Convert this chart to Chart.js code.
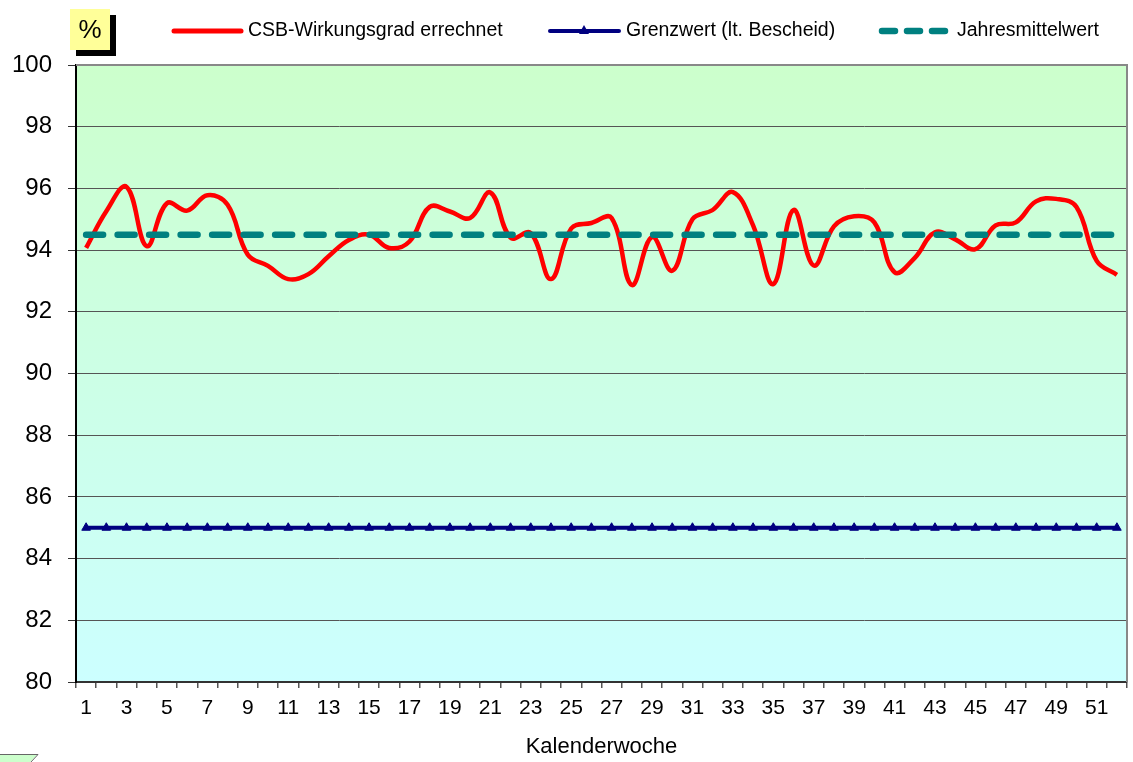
<!DOCTYPE html>
<html>
<head>
<meta charset="utf-8">
<script src="https://cdn.jsdelivr.net/npm/chart.js@4.4.1/dist/chart.umd.min.js"></script>
<style>
  html, body { margin: 0; padding: 0; background: #ffffff; }
</style>
</head>
<body>
<canvas id="csb-chart" width="1133" height="762"></canvas>
<script>
// Kalenderwochen (x axis categories)
var wochen = ['1','2','3','4','5','6','7','8','9','10','11','12','13','14','15','16','17','18','19','20',
              '21','22','23','24','25','26','27','28','29','30','31','32','33','34','35','36','37','38','39','40',
              '41','42','43','44','45','46','47','48','49','50','51','52'];

// CSB-Wirkungsgrad errechnet, %
var wirkungsgrad = [94.07, 95.26, 96.05, 94.13, 95.52, 95.28, 95.78, 95.47, 93.85, 93.49,
                    93.06, 93.22, 93.8, 94.33, 94.5, 94.07, 94.28, 95.4, 95.25, 95.04,
                    95.87, 94.4, 94.55, 93.06, 94.7, 94.88, 95.04, 92.87, 94.42, 93.33,
                    95.0, 95.3, 95.88, 94.8, 92.9, 95.3, 93.5, 94.77, 95.1, 94.9,
                    93.28, 93.75, 94.58, 94.35, 94.03, 94.8, 94.9, 95.58, 95.66, 95.4,
                    93.65, 93.2];

var grenzwert = 85;      // Grenzwert (lt. Bescheid)
var jahresmittel = 94.5; // Jahresmittelwert

var yTicks = [80, 82, 84, 86, 88, 90, 92, 94, 96, 98, 100];

var fontFamily = '"Liberation Sans", Arial, sans-serif';

// plot area fill, frame and the little decorations around the chart
var decorations = {
    id: 'decorations',
    beforeDraw: function(chart) {
        var ctx = chart.ctx, a = chart.chartArea;
        ctx.save();
        ctx.fillStyle = '#ffffff';
        ctx.fillRect(0, 0, chart.width, chart.height);
        var g = ctx.createLinearGradient(0, a.top, 0, a.bottom);
        g.addColorStop(0, '#CCFFCC');
        g.addColorStop(1, '#CCFFFF');
        ctx.fillStyle = g;
        ctx.fillRect(a.left, a.top, a.right - a.left, a.bottom - a.top);
        ctx.restore();
    },
    afterDraw: function(chart) {
        var ctx = chart.ctx, a = chart.chartArea;
        ctx.save();
        // gray frame top and right
        ctx.strokeStyle = '#888888';
        ctx.lineWidth = 2;
        ctx.beginPath();
        ctx.moveTo(a.left, a.top);
        ctx.lineTo(a.right, a.top);
        ctx.lineTo(a.right, a.bottom);
        ctx.stroke();

        // "%" box with shadow
        ctx.fillStyle = '#000000';
        ctx.fillRect(76, 15, 40, 41);
        ctx.fillStyle = '#FFFF99';
        ctx.fillRect(70, 9, 40, 41);
        ctx.fillStyle = '#000000';
        ctx.font = '26px ' + fontFamily;
        ctx.textAlign = 'center';
        ctx.textBaseline = 'middle';
        ctx.fillText('%', 90, 31);

        // leftover text box in the lower left corner
        ctx.fillStyle = '#CCFFCC';
        ctx.beginPath();
        ctx.moveTo(0, 754);
        ctx.lineTo(38, 754);
        ctx.lineTo(30, 762);
        ctx.lineTo(0, 762);
        ctx.closePath();
        ctx.fill();
        ctx.strokeStyle = '#666666';
        ctx.lineWidth = 1;
        ctx.beginPath();
        ctx.moveTo(0, 754.5);
        ctx.lineTo(38, 754.5);
        ctx.lineTo(30, 763);
        ctx.stroke();

        // legend
        var ds = chart.data.datasets;
        var ly = 31;
        ctx.font = '19.5px ' + fontFamily;
        ctx.textAlign = 'left';
        ctx.textBaseline = 'middle';
        ctx.lineCap = 'round';

        ctx.strokeStyle = ds[0].borderColor;
        ctx.lineWidth = 5;
        ctx.beginPath(); ctx.moveTo(174, ly); ctx.lineTo(241, ly); ctx.stroke();
        ctx.fillStyle = '#000000';
        ctx.fillText(ds[0].label, 248, ly);

        ctx.strokeStyle = ds[1].borderColor;
        ctx.lineWidth = 4;
        ctx.beginPath(); ctx.moveTo(550, ly); ctx.lineTo(619, ly); ctx.stroke();
        ctx.fillStyle = ds[1].borderColor;
        ctx.beginPath(); ctx.moveTo(584, ly - 6); ctx.lineTo(579, ly + 3); ctx.lineTo(589, ly + 3); ctx.closePath(); ctx.fill();
        ctx.fillStyle = '#000000';
        ctx.fillText(ds[1].label, 626, ly);

        ctx.strokeStyle = ds[2].borderColor;
        ctx.lineWidth = 6.5;
        ctx.setLineDash([13, 12]);
        ctx.beginPath(); ctx.moveTo(882, ly); ctx.lineTo(946, ly); ctx.stroke();
        ctx.setLineDash([]);
        ctx.fillStyle = '#000000';
        ctx.fillText(ds[2].label, 957, ly);
        ctx.restore();
    }
};

var ctx = document.getElementById('csb-chart').getContext('2d');
var csbChart = new Chart(ctx, {
    type: 'line',
    data: {
        labels: wochen,
        datasets: [{
            label: 'CSB-Wirkungsgrad errechnet',
            data: wirkungsgrad,
            borderColor: '#FF0000',
            borderWidth: 4.5,
            tension: 0.4,
            pointRadius: 0,
            order: 1
        }, {
            label: 'Grenzwert (lt. Bescheid)',
            data: wochen.map(function() { return grenzwert; }),
            borderColor: '#000080',
            backgroundColor: '#000080',
            borderWidth: 4,
            pointStyle: 'triangle',
            pointRadius: 5,
            pointBorderWidth: 1,
            order: 2
        }, {
            label: 'Jahresmittelwert',
            data: wochen.map(function() { return jahresmittel; }),
            borderColor: '#008080',
            borderWidth: 6.5,
            borderDash: [17, 14.5],
            borderCapStyle: 'round',
            pointRadius: 0,
            order: 0
        }]
    },
    options: {
        responsive: false,
        animation: false,
        layout: { padding: { top: 65, right: 5.5, left: 0, bottom: 0 } },
        plugins: {
            legend: { display: false },
            tooltip: { enabled: false }
        },
        scales: {
            x: {
                offset: true,
                grid: {
                    offset: true,
                    drawOnChartArea: false,
                    drawTicks: true,
                    tickLength: 6,
                    color: '#555555',
                    lineWidth: 1.5
                },
                border: { color: '#333333', width: 2 },
                ticks: {
                    autoSkip: false,
                    maxRotation: 0,
                    padding: 8,
                    color: '#000000',
                    font: { family: fontFamily, size: 21 },
                    callback: function(val, i) {
                        return i % 2 === 0 ? this.getLabelForValue(val) : '';
                    }
                },
                title: {
                    display: true,
                    text: 'Kalenderwoche',
                    color: '#000000',
                    font: { family: fontFamily, size: 22 },
                    padding: { top: 0, bottom: 2 }
                },
                afterFit: function(scale) { scale.height = 80; }
            },
            y: {
                min: 80,
                max: 100,
                afterBuildTicks: function(scale) {
                    scale.ticks = yTicks.map(function(v) { return { value: v }; });
                },
                grid: {
                    color: '#555555',
                    lineWidth: 1,
                    tickLength: 8,
                    tickColor: '#333333'
                },
                border: { color: '#000000', width: 2 },
                ticks: {
                    padding: 16,
                    color: '#000000',
                    font: { family: fontFamily, size: 24 }
                },
                afterFit: function(scale) { scale.width = 76; }
            }
        }
    },
    plugins: [decorations]
});
</script>
</body>
</html>
